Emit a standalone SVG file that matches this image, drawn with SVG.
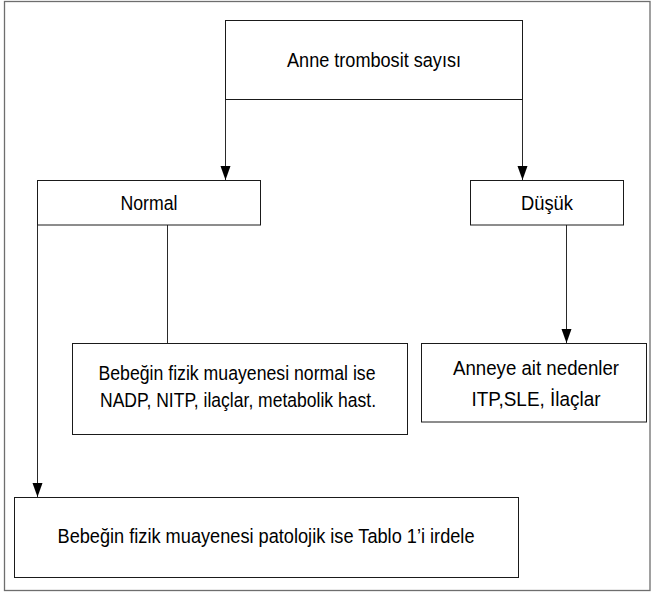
<svg xmlns="http://www.w3.org/2000/svg" width="654" height="594" viewBox="0 0 654 594">
<defs>
<marker id="ah" markerUnits="userSpaceOnUse" markerWidth="15" markerHeight="12" refX="14" refY="5" orient="auto">
<path d="M0,0 L14,5 L0,10 Z" fill="#000"/>
</marker>
<style>
.box{fill:#fff;stroke:#1a1a1a;stroke-width:1}
.frame{fill:#fff;stroke:#6e6e6e;stroke-width:1.3}
.t{font-family:"Liberation Sans","Arial",sans-serif;font-size:20.5px;fill:#000;text-anchor:middle}
.c{fill:none;stroke:#2a2a2a;stroke-width:1}
</style>
</defs>
<rect class="frame" x="4.5" y="1.5" width="645.5" height="589"/>
<g id="connectors">
<path class="c" d="M225.5,99.5 V180" marker-end="url(#ah)"/>
<path class="c" d="M522.5,99.5 V180" marker-end="url(#ah)"/>
<path class="c" d="M167.5,225 V343.5"/>
<path class="c" d="M566.5,225 V343" marker-end="url(#ah)"/>
<path class="c" d="M37.5,225 V497" marker-end="url(#ah)"/>
</g>
<g id="n-anne">
<rect class="box" x="225.5" y="20.5" width="297" height="79"/>
<text class="t" x="374" y="67" textLength="174" lengthAdjust="spacingAndGlyphs">Anne trombosit sayısı</text>
</g>
<g id="n-normal">
<rect class="box" x="37.5" y="180.5" width="223" height="44.5"/>
<text class="t" x="149" y="210" textLength="57" lengthAdjust="spacingAndGlyphs">Normal</text>
</g>
<g id="n-dusuk">
<rect class="box" x="470.5" y="180.5" width="153" height="44.5"/>
<text class="t" x="547" y="210" textLength="52" lengthAdjust="spacingAndGlyphs">Düşük</text>
</g>
<g id="n-bebek-normal">
<rect class="box" x="72.5" y="343.5" width="335" height="91"/>
<text class="t" x="237" y="380" textLength="277" lengthAdjust="spacingAndGlyphs">Bebeğin fizik muayenesi normal ise</text>
<text class="t" x="238" y="407" textLength="276" lengthAdjust="spacingAndGlyphs">NADP, NITP, ilaçlar, metabolik hast.</text>
</g>
<g id="n-anneye">
<rect class="box" x="421.5" y="343.5" width="225" height="78.5"/>
<text class="t" x="536" y="375" textLength="166" lengthAdjust="spacingAndGlyphs">Anneye ait nedenler</text>
<text class="t" x="536" y="406" textLength="129" lengthAdjust="spacingAndGlyphs">ITP,SLE, İlaçlar</text>
</g>
<g id="n-bebek-patolojik">
<rect class="box" x="14.5" y="497.5" width="504" height="80"/>
<text class="t" x="266" y="543" textLength="417" lengthAdjust="spacingAndGlyphs">Bebeğin fizik muayenesi patolojik ise Tablo 1’i irdele</text>
</g>
</svg>
